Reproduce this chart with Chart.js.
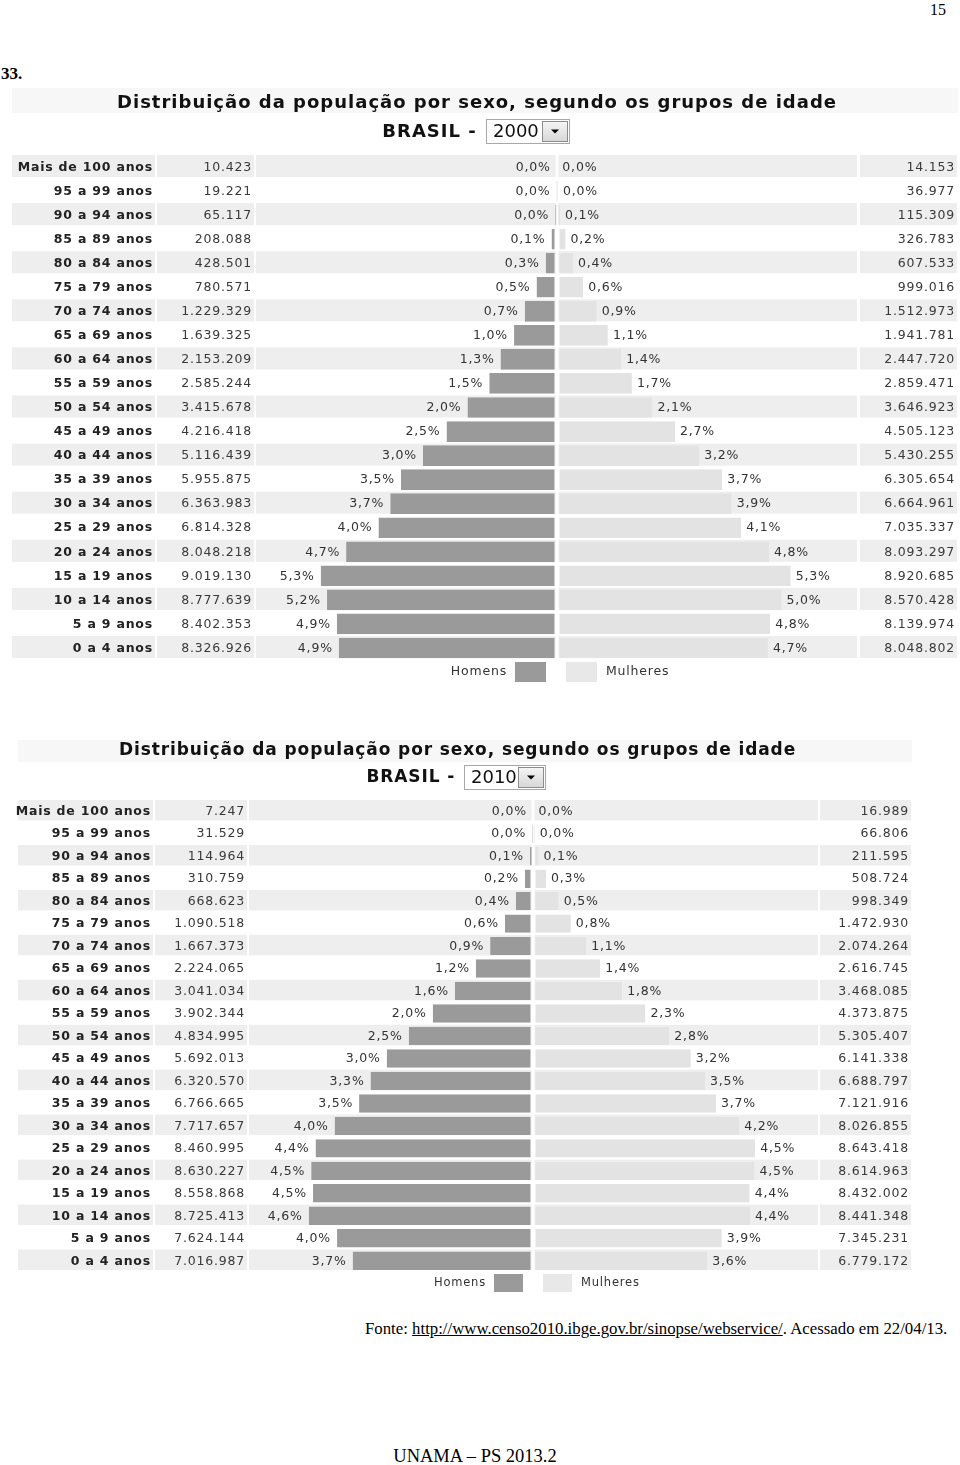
<!DOCTYPE html>
<html lang="pt-BR">
<head>
<meta charset="utf-8">
<title>Distribuição da população por sexo</title>
<script src="https://cdn.jsdelivr.net/npm/chart.js@4.4.1/dist/chart.umd.min.js"></script>
<style>
	html, body { margin: 0; padding: 0; background: #fff; }
	body { width: 960px; height: 1465px; position: relative; overflow: hidden; font-family: "Liberation Serif", "Times New Roman", serif; color: #000; }
	.abs { position: absolute; white-space: nowrap; }
	#pagina { left: 930px; top: 1px; font-size: 16px; }
	#questao { left: 1px; top: 64px; font-size: 17px; font-weight: bold; }
	#fonte { left: 365px; top: 1319px; font-size: 16.8px; }
	#fonte span { text-decoration: underline; }
	#rodape { left: 0; width: 950px; text-align: center; top: 1446px; font-size: 18.5px; }
	canvas { position: absolute; left: 0; }
	#g2000 { top: 84px; }
	#g2010 { top: 732px; }
</style>
</head>
<body>
<div class="abs" id="pagina">15</div>
<div class="abs" id="questao">33.</div>
<canvas id="g2000" width="960" height="612"></canvas>
<canvas id="g2010" width="960" height="572"></canvas>
<div class="abs" id="fonte">Fonte: <span>http://www.censo2010.ibge.gov.br/sinopse/webservice/</span>. Acessado em 22/04/13.</div>
<div class="abs" id="rodape">UNAMA – PS 2013.2</div>
<script>
// grupos de idade, do mais velho ao mais novo
var faixas = ["Mais de 100 anos", "95 a 99 anos", "90 a 94 anos", "85 a 89 anos", "80 a 84 anos",
	"75 a 79 anos", "70 a 74 anos", "65 a 69 anos", "60 a 64 anos", "55 a 59 anos", "50 a 54 anos",
	"45 a 49 anos", "40 a 44 anos", "35 a 39 anos", "30 a 34 anos", "25 a 29 anos", "20 a 24 anos",
	"15 a 19 anos", "10 a 14 anos", "5 a 9 anos", "0 a 4 anos"];

var homens2000 = [10423, 19221, 65117, 208088, 428501, 780571, 1229329, 1639325, 2153209, 2585244, 3415678,
	4216418, 5116439, 5955875, 6363983, 6814328, 8048218, 9019130, 8777639, 8402353, 8326926];
var mulheres2000 = [14153, 36977, 115309, 326783, 607533, 999016, 1512973, 1941781, 2447720, 2859471, 3646923,
	4505123, 5430255, 6305654, 6664961, 7035337, 8093297, 8920685, 8570428, 8139974, 8048802];
var pctHomens2000 = [0.0, 0.0, 0.0, 0.1, 0.3, 0.5, 0.7, 1.0, 1.3, 1.5, 2.0, 2.5, 3.0, 3.5, 3.7, 4.0, 4.7, 5.3, 5.2, 4.9, 4.9];
var pctMulheres2000 = [0.0, 0.0, 0.1, 0.2, 0.4, 0.6, 0.9, 1.1, 1.4, 1.7, 2.1, 2.7, 3.2, 3.7, 3.9, 4.1, 4.8, 5.3, 5.0, 4.8, 4.7];

var homens2010 = [7247, 31529, 114964, 310759, 668623, 1090518, 1667373, 2224065, 3041034, 3902344, 4834995,
	5692013, 6320570, 6766665, 7717657, 8460995, 8630227, 8558868, 8725413, 7624144, 7016987];
var mulheres2010 = [16989, 66806, 211595, 508724, 998349, 1472930, 2074264, 2616745, 3468085, 4373875, 5305407,
	6141338, 6688797, 7121916, 8026855, 8643418, 8614963, 8432002, 8441348, 7345231, 6779172];
var pctHomens2010 = [0.0, 0.0, 0.1, 0.2, 0.4, 0.6, 0.9, 1.2, 1.6, 2.0, 2.5, 3.0, 3.3, 3.5, 4.0, 4.4, 4.5, 4.5, 4.6, 4.0, 3.7];
var pctMulheres2010 = [0.0, 0.0, 0.1, 0.3, 0.5, 0.8, 1.1, 1.4, 1.8, 2.3, 2.8, 3.2, 3.5, 3.7, 4.2, 4.5, 4.5, 4.4, 4.4, 3.9, 3.6];

var titulo = "Distribuição da população por sexo, segundo os grupos de idade";

function milhar(n) {
	return String(n).replace(/\B(?=(\d{3})+(?!\d))/g, ".");
}
function pct(v) {
	return v.toFixed(1).replace(".", ",") + "%";
}

// desenha a tabela, o título com o seletor de ano e a legenda
var tabela = {
	id: 'tabela',
	beforeDatasetsDraw(chart, args, o) {
		var ctx = chart.ctx, a = chart.chartArea, y = chart.scales.y, x = chart.scales.x;
		var passo = a.height / chart.data.labels.length;
		var meio = x.getPixelForValue(0);
		var c = o.colunas;
		ctx.save();
		ctx.fillStyle = '#f7f7f7';
		ctx.fillRect(o.fundoTitulo[0], o.fundoTitulo[1], o.fundoTitulo[2], o.fundoTitulo[3]);
		ctx.fillStyle = '#eeeeee';
		chart.data.labels.forEach(function(l, i) {
			if (i % 2) return;
			var topo = y.getPixelForValue(i) - passo / 2;
			var h = passo - 2;
			ctx.fillRect(c.rotulo[0], topo, c.rotulo[1] - c.rotulo[0], h);
			ctx.fillRect(c.homens[0], topo, c.homens[1] - c.homens[0], h);
			ctx.fillRect(c.barras[0], topo, meio - 1.5 - c.barras[0], h);
			ctx.fillRect(meio + 1.5, topo, c.barras[1] - meio - 1.5, h);
			ctx.fillRect(c.mulheres[0], topo, c.mulheres[1] - c.mulheres[0], h);
		});
		ctx.restore();
	},
	afterDatasetsDraw(chart, args, o) {
		var ctx = chart.ctx, a = chart.chartArea, y = chart.scales.y, x = chart.scales.x;
		var c = o.colunas;
		var ds = chart.data.datasets;
		var meio = x.getPixelForValue(0);
		ctx.save();
		ctx.textBaseline = 'middle';

		// título
		ctx.fillStyle = '#111';
		ctx.font = o.titulo.fonte;
		ctx.letterSpacing = o.titulo.espaco;
		ctx.textAlign = 'center';
		ctx.fillText(titulo, o.titulo.x, o.titulo.y);

		// BRASIL - [ano]
		var s = o.seletor;
		ctx.textAlign = 'right';
		ctx.fillText("BRASIL - ", s.x - 2, s.y + s.h / 2 + 0.5);
		ctx.fillStyle = '#fff';
		ctx.fillRect(s.x, s.y, s.w, s.h);
		ctx.strokeStyle = '#a8a8a8';
		ctx.lineWidth = 1;
		ctx.strokeRect(s.x + 0.5, s.y + 0.5, s.w - 1, s.h - 1);
		ctx.fillStyle = '#111';
		ctx.font = s.fonte;
		ctx.letterSpacing = '0px';
		ctx.textAlign = 'left';
		ctx.fillText(o.ano, s.x + 7, s.y + s.h / 2 + 0.5);
		var bx = s.x + s.w - 28, by = s.y + 2, bw = 26, bh = s.h - 4;
		var grad = ctx.createLinearGradient(0, by, 0, by + bh);
		grad.addColorStop(0, '#f6f6f6');
		grad.addColorStop(1, '#d6d6d6');
		ctx.fillStyle = grad;
		ctx.fillRect(bx, by, bw, bh);
		ctx.strokeStyle = '#8c8c8c';
		ctx.strokeRect(bx + 0.5, by + 0.5, bw - 1, bh - 1);
		ctx.fillStyle = '#000';
		ctx.beginPath();
		ctx.moveTo(bx + bw / 2 - 4, by + bh / 2 - 2);
		ctx.lineTo(bx + bw / 2 + 4, by + bh / 2 - 2);
		ctx.lineTo(bx + bw / 2, by + bh / 2 + 2);
		ctx.closePath();
		ctx.fill();

		// linhas da tabela
		chart.data.labels.forEach(function(l, i) {
			var cy = y.getPixelForValue(i) + 0.5;
			ctx.letterSpacing = o.espaco;
			ctx.textAlign = 'right';
			ctx.font = 'bold ' + o.fonte;
			ctx.fillStyle = '#222';
			ctx.fillText(l, c.rotulo[1] - 2, cy);
			ctx.font = o.fonte;
			ctx.fillStyle = '#3a3a3a';
			ctx.fillText(milhar(o.homens[i]), c.homens[1] - 2, cy);
			ctx.fillText(milhar(o.mulheres[i]), c.mulheres[1] - 2, cy);
			ctx.fillStyle = '#333';
			ctx.fillText(pct(o.pctH[i]), x.getPixelForValue(ds[0].data[i]) - 6, cy);
			ctx.textAlign = 'left';
			ctx.fillText(pct(o.pctM[i]), x.getPixelForValue(ds[1].data[i]) + 5, cy);
		});

		// legenda
		var lg = o.legenda;
		var ly = a.bottom + lg.dy;
		ctx.fillStyle = ds[0].backgroundColor;
		ctx.fillRect(meio - lg.gapE - lg.w, ly - lg.h / 2, lg.w, lg.h);
		ctx.fillStyle = '#e8e8e8';
		ctx.fillRect(meio + lg.gapD, ly - lg.h / 2, lg.w, lg.h);
		ctx.font = lg.fonte;
		ctx.fillStyle = '#333';
		ctx.textAlign = 'right';
		ctx.fillText(ds[0].label, meio - lg.gapE - lg.w - 8, ly);
		ctx.textAlign = 'left';
		ctx.fillText(ds[1].label, meio + lg.gapD + lg.w + 9, ly);
		ctx.restore();
	}
};

class Piramide {
	constructor(area, ano, homens, mulheres, pctH, pctM, quadro) {
		this.area = area;
		this.ano = ano;
		this.homens = homens;
		this.mulheres = mulheres;
		this.pctH = pctH;
		this.pctM = pctM;
		this.quadro = quadro;
	}

	createSettings() {
		var q = this.quadro;
		var barra = {
			borderColor: 'rgba(0,0,0,0)',
			borderSkipped: false,
			barPercentage: q.barra,
			categoryPercentage: 1
		};
		return {
			type: 'bar',
			data: {
				labels: faixas,
				datasets: [
					Object.assign({
						label: 'Homens',
						data: this.homens.map(v => -v),
						backgroundColor: '#9a9a9a',
						borderWidth: {top: 0, right: 2.5, bottom: 0, left: 0}
					}, barra),
					Object.assign({
						label: 'Mulheres',
						data: this.mulheres,
						backgroundColor: '#e3e3e3',
						borderWidth: {top: 0, right: 0, bottom: 0, left: 2.5}
					}, barra)
				]
			},
			options: {
				indexAxis: 'y',
				responsive: false,
				animation: false,
				layout: {padding: q.padding},
				scales: {
					x: {stacked: true, display: false, min: -q.limite, max: q.limite},
					y: {stacked: true, display: false}
				},
				plugins: {
					legend: {display: false},
					tooltip: {enabled: false},
					tabela: Object.assign({
						ano: this.ano,
						homens: this.homens,
						mulheres: this.mulheres,
						pctH: this.pctH,
						pctM: this.pctM
					}, q)
				}
			},
			plugins: [tabela]
		};
	}

	plotChart() {
		new Chart(document.getElementById(this.area), this.createSettings());
	}
}

var quadro2000 = {
	limite: 11450000,
	barra: 0.86,
	padding: {left: 257, right: 103, top: 71, bottom: 36},
	fundoTitulo: [12, 4, 946, 25],
	titulo: {x: 477, y: 19, fonte: 'bold 18px "DejaVu Sans"', espaco: '1px'},
	seletor: {x: 486, y: 35, w: 84, h: 25, fonte: '18px "DejaVu Sans"'},
	colunas: {rotulo: [12, 155], homens: [157, 254], barras: [256, 857], mulheres: [860, 957]},
	fonte: '12.5px "DejaVu Sans"',
	espaco: '0.8px',
	legenda: {dy: 12, w: 31, h: 20, gapE: 11, gapD: 9, fonte: '12.5px "DejaVu Sans"'}
};

var quadro2010 = {
	limite: 11050000,
	barra: 0.82,
	padding: {left: 249, right: 143, top: 68, bottom: 32},
	fundoTitulo: [18, 8, 894, 22],
	titulo: {x: 457.5, y: 19, fonte: 'bold 17px "DejaVu Sans"', espaco: '0.9px'},
	seletor: {x: 464, y: 33, w: 82, h: 25, fonte: '18px "DejaVu Sans"'},
	colunas: {rotulo: [18, 153], homens: [155, 247], barras: [249, 818], mulheres: [820, 911]},
	fonte: '12.5px "DejaVu Sans"',
	espaco: '0.8px',
	legenda: {dy: 11, w: 29, h: 18, gapE: 10, gapD: 10, fonte: '11.5px "DejaVu Sans"'}
};

new Piramide('g2000', '2000', homens2000, mulheres2000, pctHomens2000, pctMulheres2000, quadro2000).plotChart();
new Piramide('g2010', '2010', homens2010, mulheres2010, pctHomens2010, pctMulheres2010, quadro2010).plotChart();
</script>
</body>
</html>
